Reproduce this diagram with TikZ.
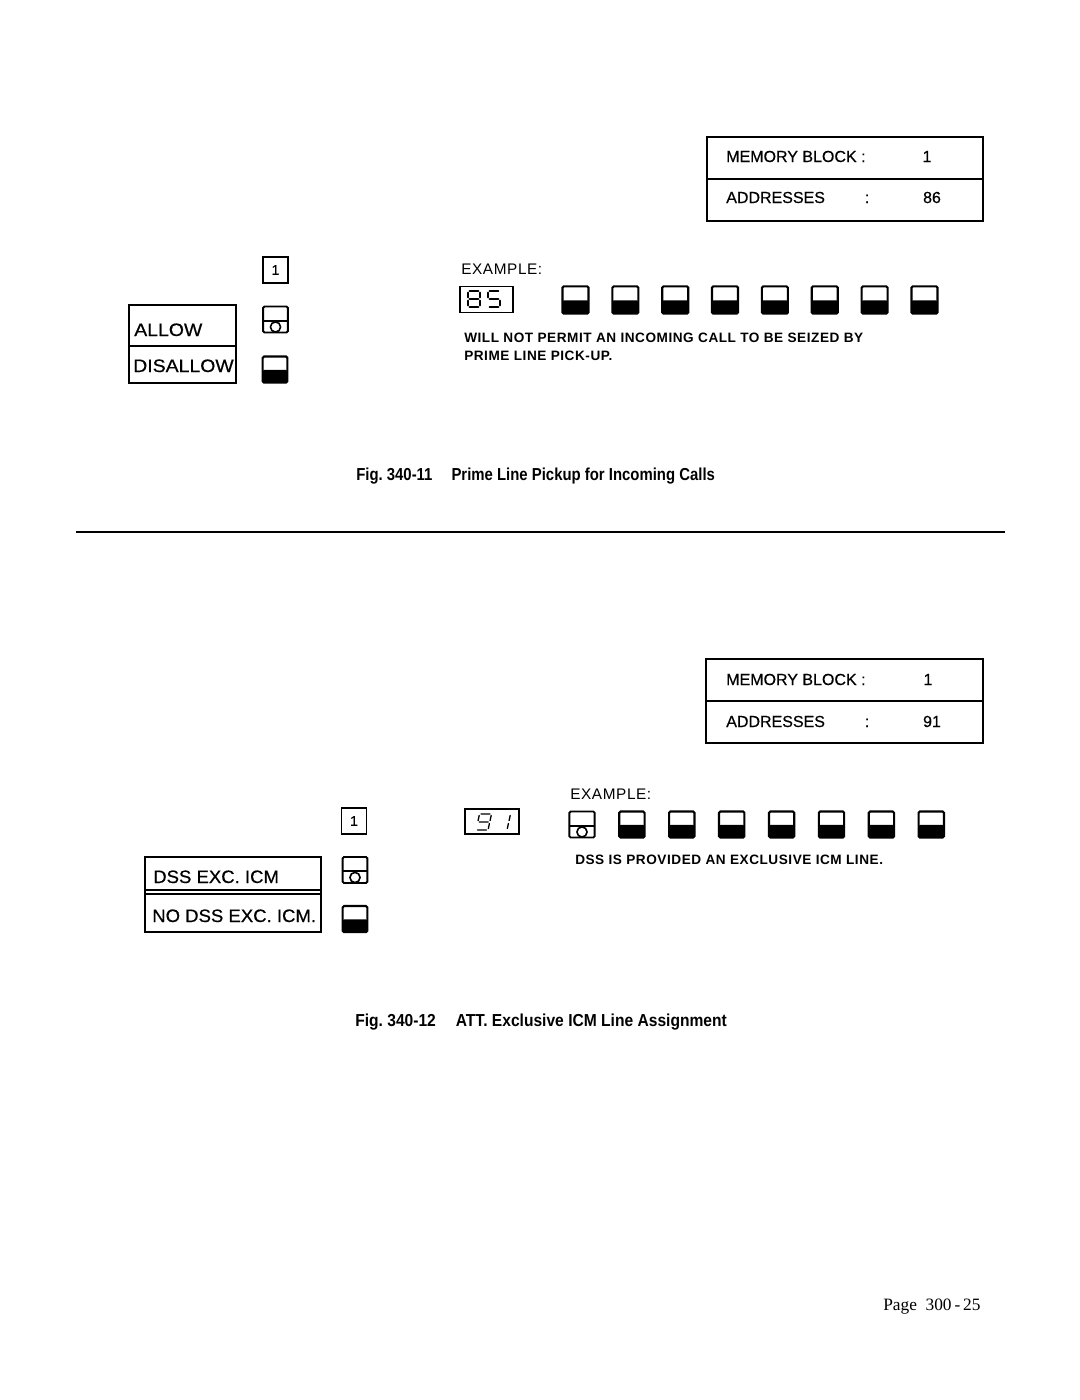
\documentclass[tikz,border=0pt]{standalone}
\usepackage{fontspec}
\setmainfont{Liberation Serif}
\setsansfont{Liberation Sans}
\newfontfamily\medsans[FakeBold=0.5]{Liberation Sans}
\newfontfamily\spacedsans[LetterSpace=4.0]{Liberation Sans}
\begin{document}
\begin{tikzpicture}[x=0.75pt,y=-0.75pt,
  boxline/.style={line width=1.1pt},
  lbl/.style={font=\medsans\fontsize{12}{12}\selectfont, inner sep=0pt},
  biglbl/.style={font=\medsans\fontsize{13.5}{13.5}\selectfont, inner sep=0pt, anchor=base west},
  smallbold/.style={font=\spacedsans\bfseries\fontsize{10.2}{10.2}\selectfont, inner sep=0pt, anchor=base west},
  exlbl/.style={font=\spacedsans\fontsize{11.5}{11.5}\selectfont, inner sep=0pt, anchor=base west},
  capt/.style={font=\sffamily\bfseries\fontsize{13}{13}\selectfont, inner sep=0pt, anchor=base west},
  keyb/.style={draw, line width=1.6pt, minimum width=18.5pt, minimum height=19.5pt, inner sep=0pt, rounded corners=1pt},
  offkey/.style={keyb, path picture={\fill ([yshift=-0.3pt]path picture bounding box.west) rectangle (path picture bounding box.south east);}},
  onkey/.style={keyb, line width=1.4pt, path picture={\draw[line width=1.5pt] ([yshift=-0.8pt]path picture bounding box.west) -- ([yshift=-0.8pt]path picture bounding box.east); \draw[line width=1.2pt] ([yshift=-5.6pt]path picture bounding box.center) circle (3.8pt);}},
  numkey/.style={draw, line width=1.2pt, minimum width=18.5pt, minimum height=19.5pt, inner sep=0pt, font=\medsans\fontsize{10.5}{10.5}\selectfont},
  dispbox/.style={draw, line width=1.2pt, inner sep=0pt},
  seg/.style={line width=1.4pt, line cap=round},
  segt/.style={line width=1pt, line cap=round}
]
\fill[white] (0,0) rectangle (1080,1400);
\path[use as bounding box] (0,0) rectangle (1080,1400);

% ================= Fig 340-11 =================
\draw[boxline] (707,137) rectangle (983,221);
\draw[boxline] (707,179) -- (983,179);
\node[lbl, anchor=base west] (mbtA) at (726,162) {MEMORY BLOCK :};
\node[lbl, anchor=base] (mbvA) at (927,162) {1};
\node[lbl, anchor=base west] (adtA) at (726,203) {ADDRESSES};
\node[lbl, anchor=base] (adcA) at (867,203) {:};
\node[lbl, anchor=base] (advA) at (932,203) {86};

\node[numkey] (oneA) at (275.5,270) {1};
\draw[boxline] (129,305) rectangle (236,383);
\draw[boxline] (129,346) -- (236,346);
\node[biglbl] (allow) at (134,336) {\scalebox{1.08}[1]{ALLOW}};
\node[biglbl] (disallow) at (133,372) {\scalebox{1.08}[1]{DISALLOW}};
\node[onkey] (onA) at (275.5,319.5) {};
\node[offkey] (offA) at (275,369.5) {};

\node[exlbl] (exA) at (461,274) {EXAMPLE:};
\node[dispbox, minimum width=39.5pt, minimum height=19.5pt] (dispA) at (486.5,299.5) {};
% digit 8
\begin{scope}[shift={(468,307)}]
\draw[seg] (1.5,-16)--(10.5,-16) (12,-14.5)--(12,-9.5) (12,-6.5)--(12,-1.5) (1.5,0)--(10.5,0) (0,-6.5)--(0,-1.5) (0,-14.5)--(0,-9.5) (1.5,-8)--(10.5,-8);
\end{scope}
% digit 5
\begin{scope}[shift={(488,307)}]
\draw[seg] (1.5,-16)--(10.5,-16) (0,-14.5)--(0,-9.5) (1.5,-8)--(10.5,-8) (12,-6.5)--(12,-1.5) (1.5,0)--(10.5,0);
\end{scope}

\foreach \i in {0,...,7} {
  \node[offkey, minimum width=19.5pt, minimum height=20.5pt] (rA\i) at (575.5+49.85*\i,300) {};
}
\node[smallbold] (noteA1) at (464,342) {WILL NOT PERMIT AN INCOMING CALL TO BE SEIZED BY};
\node[smallbold] (noteA2) at (464,360) {PRIME LINE PICK-UP.};

\node[capt] (capA) at (356,480) {\scalebox{0.86}[1]{Fig.\ 340-11\quad\ Prime Line Pickup for Incoming Calls}};

\draw[line width=0.8pt] (76,532) -- (1005,532);

% ================= Fig 340-12 =================
\draw[boxline] (706,659) rectangle (983,743);
\draw[boxline] (706,701) -- (983,701);
\node[lbl, anchor=base west] (mbtB) at (726,685) {MEMORY BLOCK :};
\node[lbl, anchor=base] (mbvB) at (928,685) {1};
\node[lbl, anchor=base west] (adtB) at (726,727) {ADDRESSES};
\node[lbl, anchor=base] (adcB) at (867,727) {:};
\node[lbl, anchor=base] (advB) at (932,727) {91};

\node[exlbl] (exB) at (570,799) {EXAMPLE:};
\node[numkey] (oneB) at (354,821) {1};
\node[dispbox, minimum width=40.5pt, minimum height=18.5pt] (dispB) at (492,821.5) {};
% digit 9 (slanted)
\begin{scope}[shift={(476,830)}, xslant=0.22]
\draw[segt] (1.5,-16)--(10.5,-16) (12,-14.5)--(12,-9.5) (12,-6.5)--(12,-1.5) (1.5,0)--(10.5,0) (0,-14.5)--(0,-9.5) (1.5,-8)--(10.5,-8);
\end{scope}
% digit 1 (slanted)
\begin{scope}[shift={(495,830)}, xslant=0.22]
\draw[segt] (12,-14.5)--(12,-9.5) (12,-6.5)--(12,-1.5);
\end{scope}

\node[onkey, minimum width=19pt, minimum height=19.5pt] (rB0) at (582,824.5) {};
\foreach \i in {1,...,7} {
  \node[offkey, minimum width=19pt, minimum height=19.5pt] (rB\i) at (582+49.9*\i,824.5) {};
}
\node[smallbold] (noteB) at (575,864) {DSS IS PROVIDED AN EXCLUSIVE ICM LINE.};

\draw[boxline] (145,857) rectangle (321,932);
\draw[boxline] (145,890) -- (321,890);
\draw[boxline] (145,894) -- (321,894);
\node[biglbl] (dss) at (153,883) {\scalebox{1.03}[1]{DSS EXC. ICM}};
\node[biglbl] (nodss) at (152,922) {\scalebox{1.03}[1]{NO DSS EXC. ICM.}};
\node[onkey] (onB) at (355,870) {};
\node[offkey] (offB) at (355,919) {};

\node[capt] (capB) at (355,1026) {\scalebox{0.9}[1]{Fig.\ 340-12\quad\ ATT.\ Exclusive ICM Line Assignment}};

\node[font=\rmfamily\fontsize{13}{13}\selectfont, anchor=base west, inner sep=0pt] (page) at (883,1310) {Page\ \ 300\,-\,25};
\end{tikzpicture}
\end{document}
